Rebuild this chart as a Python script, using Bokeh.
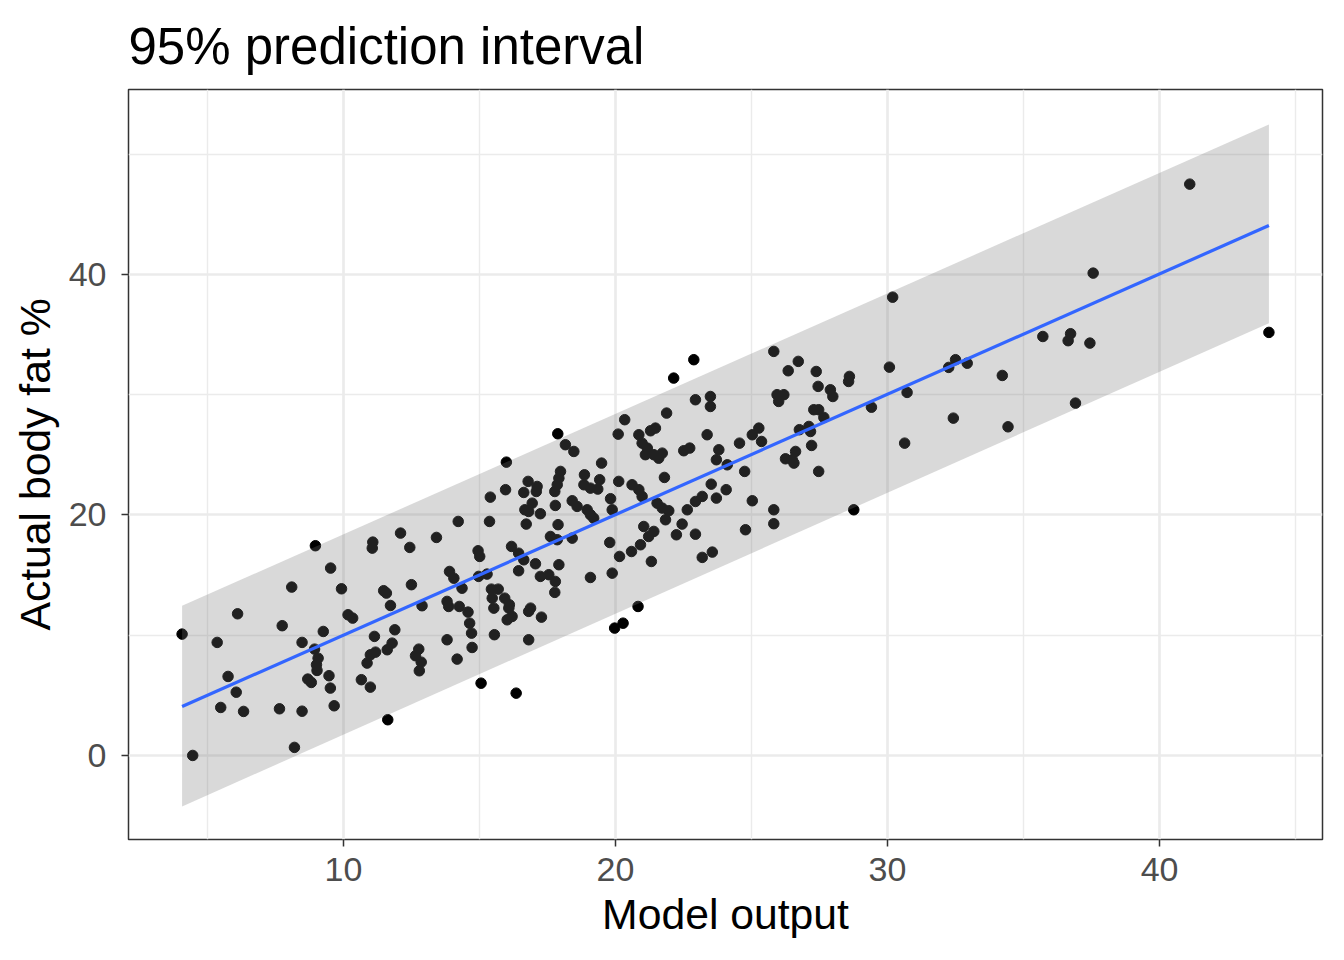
from bokeh.plotting import figure
from bokeh.models import FixedTicker, Range1d, ColumnDataSource
from bokeh.embed import file_html
from bokeh.resources import INLINE

model_output = [
    4.07, 4.46, 5.36, 5.49, 5.76, 6.06, 6.11, 6.33, 7.65, 7.75, 8.10, 8.20, 8.48, 8.48,
    8.69, 8.82, 8.97, 8.94, 9.07, 9.01, 9.03, 9.26, 9.47, 9.52, 9.53, 9.66, 9.93, 10.17,
    10.34, 10.66, 10.87, 10.99, 10.99, 11.18, 11.14, 11.08, 11.06, 11.48, 11.58, 11.73,
    11.61, 11.79, 11.89, 11.63, 12.10, 12.44, 12.50, 12.89, 12.77, 12.65, 12.86, 12.79,
    13.42, 13.81, 13.87, 13.81, 13.90, 14.06, 14.18, 14.22, 14.26, 14.36, 14.58, 14.64,
    14.71, 14.73, 14.95, 15.01, 14.97, 15.28, 15.06, 15.37, 15.40, 15.44, 15.69, 15.47,
    15.93, 15.53, 16.08, 16.02, 15.55, 15.96, 15.99, 16.18, 16.10, 16.20, 16.44, 16.63,
    16.44, 17.06, 17.24, 17.55, 17.79, 17.77, 17.92, 16.81, 16.88, 17.28, 16.81, 16.35,
    16.72, 16.67, 16.81, 17.24, 16.94, 16.63, 16.79, 17.12, 17.09, 17.61, 17.86, 17.89,
    17.79, 17.77, 17.86, 17.92, 17.98, 17.88, 18.16, 18.47, 18.41, 18.59, 18.96, 19.08,
    19.20, 18.86, 18.84, 19.08, 19.35, 19.42, 19.49, 19.82, 19.88, 20.12, 20.10, 20.34,
    20.61, 20.86, 20.98, 20.86, 20.98, 21.10, 18.41, 19.79, 20.15, 20.59, 20.92, 21.04,
    19.88, 19.08, 20.83, 20.28, 19.97, 22.88, 22.14, 22.94, 23.49, 23.49, 21.88, 21.47,
    21.29, 21.17, 21.41, 21.72, 21.59, 22.51, 22.73, 23.37, 23.80, 23.71, 21.80, 23.52,
    23.71, 21.53, 21.72, 21.96, 21.84, 23.19, 22.94, 22.64, 21.41, 21.22, 22.45, 22.24,
    22.94, 23.19, 23.56, 21.32, 25.82, 26.72, 26.35, 25.94, 26.19, 26.00, 25.27, 25.03,
    25.37, 24.56, 26.76, 24.11, 24.75, 26.62, 26.50, 26.25, 26.56, 24.07, 25.03, 25.82,
    25.82, 24.78, 27.38, 28.60, 28.57, 27.45, 27.90, 27.99, 27.29, 27.47, 27.66, 27.11,
    27.17, 27.21, 27.47, 28.76, 30.19, 30.07, 30.72, 29.41, 30.63, 32.25, 32.50, 32.93,
    34.22, 32.42, 34.43, 35.71, 36.73, 36.64, 37.44, 36.91, 41.11, 37.56, 44.02,
]
body_fat = [
    10.09, 0.00, 9.40, 3.99, 6.57, 5.26, 11.78, 3.66, 3.88, 10.79, 14.00, 0.67, 3.68, 9.40,
    6.35, 6.07, 17.44, 8.84, 8.09, 7.54, 7.07, 10.31, 6.63, 5.60, 15.58, 4.13, 13.86, 11.70,
    11.42, 6.30, 7.68, 5.68, 8.37, 8.59, 9.90, 17.74, 17.24, 13.70, 13.50, 12.47,
    8.79, 9.34, 10.45, 2.97, 18.49, 17.30, 14.20, 12.45, 8.84, 8.29, 7.76, 7.04,
    18.13, 12.81, 12.39, 9.62, 15.30, 14.74, 8.01, 19.46, 12.39, 13.91, 11.92, 11.00,
    10.17, 8.98, 17.02, 16.55, 14.89, 15.08, 6.01, 19.46, 21.48, 13.83, 13.83, 13.08,
    13.08, 12.25, 12.25, 11.28, 10.04, 22.10, 24.39, 17.38, 12.53, 11.56, 16.82, 16.27,
    15.36, 15.94, 14.89, 15.03, 14.47, 13.56, 15.86, 11.98, 12.25, 11.50, 9.62, 5.18,
    19.24, 20.43, 20.29, 20.10, 20.98, 21.87, 22.79, 22.37, 21.95, 18.21, 17.94, 19.19,
    20.79, 21.95, 22.51, 23.06, 23.62, 26.75, 25.84, 25.28, 21.18, 20.71, 20.43, 20.02,
    19.73, 23.34, 22.51, 22.23, 22.15, 22.93, 24.31, 21.35, 20.43, 22.79, 26.72, 27.92,
    22.51, 22.10, 21.54, 26.67, 25.97, 25.01, 18.07, 17.71, 16.55, 16.96, 17.52, 19.04,
    15.16, 14.80, 12.39, 11.00, 10.59, 32.91, 31.38, 29.58, 29.85, 29.02, 28.47, 27.22,
    27.00, 25.56, 25.01, 25.14, 24.72, 25.34, 25.56, 26.67, 25.42, 24.59, 23.12, 22.56,
    21.40, 20.98, 20.57, 20.35, 19.60, 21.54, 21.12, 20.43, 18.63, 18.21, 19.24, 18.35,
    18.40, 16.47, 16.91, 16.13, 33.60, 32.77, 31.99, 30.00, 30.00, 29.44, 27.22, 26.67,
    26.11, 25.97, 27.09, 24.17, 23.62, 25.28, 24.59, 24.67, 24.31, 22.10, 21.18, 20.43,
    19.27, 18.77, 31.93, 31.52, 31.10, 30.69, 30.41, 29.85, 28.75, 28.75, 28.11, 27.36,
    26.94, 25.78, 23.62, 20.43, 38.11, 32.29, 30.19, 28.96, 25.97, 32.27, 32.91, 32.62,
    31.60, 28.05, 27.33, 34.84, 35.07, 34.49, 34.29, 29.30, 47.51, 40.11, 35.18,
]

# fitted line and 95% prediction band read at the two ends of the data range
fit_x = [4.07, 44.02]
fit_y = [4.07, 44.07]
band_lower = [-4.24, 35.95]
band_upper = [12.45, 52.47]

x_ticks = [10, 20, 30, 40]
x_minor = [5, 15, 25, 35, 45]
y_ticks = [0, 20, 40]
y_minor = [-10, 10, 30, 50]

FONT = "Liberation Sans"

p = figure(
    frame_width=1194, frame_height=750,
    x_range=Range1d(2.10, 45.99), y_range=Range1d(-6.99, 55.38),
    output_backend="svg", toolbar_location=None,
    min_border_left=128, min_border_right=6, min_border_top=88, min_border_bottom=106,
    background_fill_color="white", border_fill_color="white",
)

p.title.text = "95% prediction interval"
p.title.text_font = FONT
p.title.text_font_size = "51px"
p.title.text_font_style = "normal"
p.title.text_color = "black"
p.title.align = "left"
p.title.standoff = 30

p.outline_line_color = "#333333"
p.outline_line_width = 1.5

p.xaxis.ticker = FixedTicker(ticks=x_ticks, minor_ticks=x_minor)
p.yaxis.ticker = FixedTicker(ticks=y_ticks, minor_ticks=y_minor)
for ax in (p.xaxis[0], p.yaxis[0]):
    ax.axis_line_color = None
    ax.major_tick_line_color = "#333333"
    ax.major_tick_line_width = 1.5
    ax.major_tick_out = 7
    ax.major_tick_in = 0
    ax.minor_tick_line_color = None
    ax.major_label_text_font = FONT
    ax.major_label_text_font_size = "34px"
    ax.major_label_text_color = "#4D4D4D"
    ax.axis_label_text_font = FONT
    ax.axis_label_text_font_size = "42.7px"
    ax.axis_label_text_font_style = "normal"
    ax.axis_label_text_color = "black"
p.xaxis[0].major_label_standoff = 11
p.xaxis[0].axis_label_standoff = 6
p.yaxis[0].major_label_standoff = 15
p.yaxis[0].axis_label_standoff = 7
p.xaxis.axis_label = "Model output"
p.yaxis.axis_label = "Actual body fat %"

for g in (p.xgrid[0], p.ygrid[0]):
    g.grid_line_color = "#EBEBEB"
    g.grid_line_width = 2.7
    g.minor_grid_line_color = "#EBEBEB"
    g.minor_grid_line_width = 1.4

src = ColumnDataSource(dict(x=model_output, y=body_fat))
p.scatter("x", "y", source=src, size=10.5, color="black")

band = ColumnDataSource(dict(x=fit_x, lo=band_lower, hi=band_upper, fit=fit_y))
p.varea(x="x", y1="lo", y2="hi", source=band, fill_color="#787878", fill_alpha=0.28)
p.line(x="x", y="fit", source=band, line_color="#3366FF", line_width=3.2)

open("out.html", "w").write(file_html(p, INLINE))
